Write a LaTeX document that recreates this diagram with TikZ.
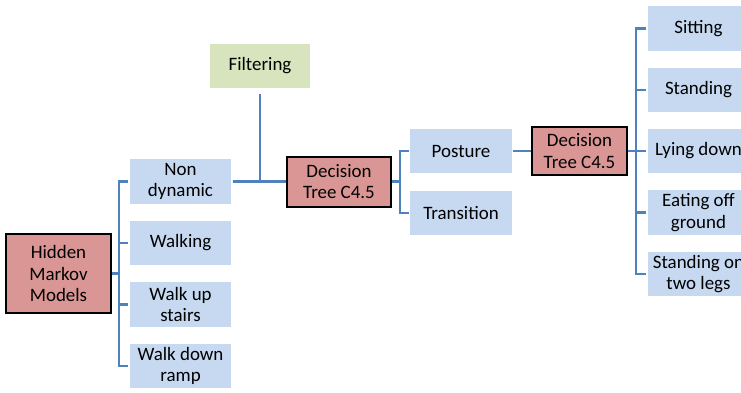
\documentclass[tikz,border=0pt]{standalone}
\usepackage{fontspec}
\setmainfont{Carlito}
\definecolor{boxblue}{HTML}{C6D9F1}
\definecolor{boxgreen}{HTML}{D7E4BD}
\definecolor{boxred}{HTML}{D99694}
\definecolor{linkblue}{HTML}{4F81BD}
\begin{document}
\begin{tikzpicture}[x=0.75pt,y=-0.75pt,
  every node/.style={font=\fontsize{14.2}{16.3}\selectfont, align=center, inner sep=0pt},
  leaf/.style={fill=boxblue, draw=white, line width=0.8pt, minimum width=77.25pt, minimum height=34.5pt},
  filt/.style={fill=boxgreen, draw=white, line width=0.8pt, minimum width=76.5pt, minimum height=34.5pt},
  model/.style={fill=boxred, draw=black, line width=1.5pt},
  link/.style={draw=linkblue, line width=2pt}]
\useasboundingbox (0,0) rectangle (741,392);
\clip (0,0) rectangle (741,392);
\fill[white] (0,0) rectangle (741,392);
% left model
\node[model, minimum width=78.75pt, minimum height=59.25pt] (hmm) at (58.5,273.5) {Hidden\\Markov\\Models};
\node[leaf] (nd) at (180.5,181.5) {Non\\dynamic};
\node[leaf] (walk) at (180.5,243) {Walking};
\node[leaf] (wus) at (180.5,304.5) {Walk up\\stairs};
\node[leaf] (wdr) at (180.5,366) {Walk down\\ramp};
\node[filt] (filt) at (260,66) {Filtering};
\node[model, minimum width=78pt, minimum height=37.5pt] (dt1) at (339,181.5) {Decision\\Tree C4.5};
\node[leaf] (post) at (461,151) {Posture};
\node[leaf] (trans) at (461,213) {Transition};
\node[model, minimum width=71.25pt, minimum height=35.25pt] (dt2) at (579.5,151) {Decision\\Tree C4.5};
\node[leaf] (sit) at (698.5,28.5) {Sitting};
\node[leaf] (stand) at (698.5,90) {Standing};
\node[leaf] (lie) at (698.5,151) {Lying down};
\node[leaf] (eat) at (698.5,212.5) {Eating off\\ground};
\node[leaf] (two) at (698.5,274) {Standing on\\two legs};
% HMM bracket
\coordinate (b1) at (119,181.5);
\path[link] (nd.west) -- (b1) -- (b1 |- wdr.west) -- (wdr.west);
\path[link] (walk.west) -- (walk.west -| b1);
\path[link] (wus.west) -- (wus.west -| b1);
\path[link] (hmm.east) -- (hmm.east -| b1);
% middle
\path[link] (nd.east) -- (dt1.west);
\path[link] ([yshift=-3]filt.south) -- (filt.south |- dt1.west);
% DT1 bracket
\coordinate (b2) at (400,151);
\path[link] (post.west) -- (b2) -- (b2 |- trans.west) -- (trans.west);
\path[link] (dt1.east) -- (dt1.east -| b2);
\path[link] (post.east) -- (dt2.west);
% DT2 bracket
\coordinate (b3) at (636,28.5);
\path[link] (sit.west) -- (b3) -- (b3 |- two.west) -- (two.west);
\path[link] (stand.west) -- (stand.west -| b3);
\path[link] (lie.west) -- (lie.west -| b3);
\path[link] (eat.west) -- (eat.west -| b3);
\path[link] (dt2.east) -- (dt2.east -| b3);
\end{tikzpicture}
\end{document}
